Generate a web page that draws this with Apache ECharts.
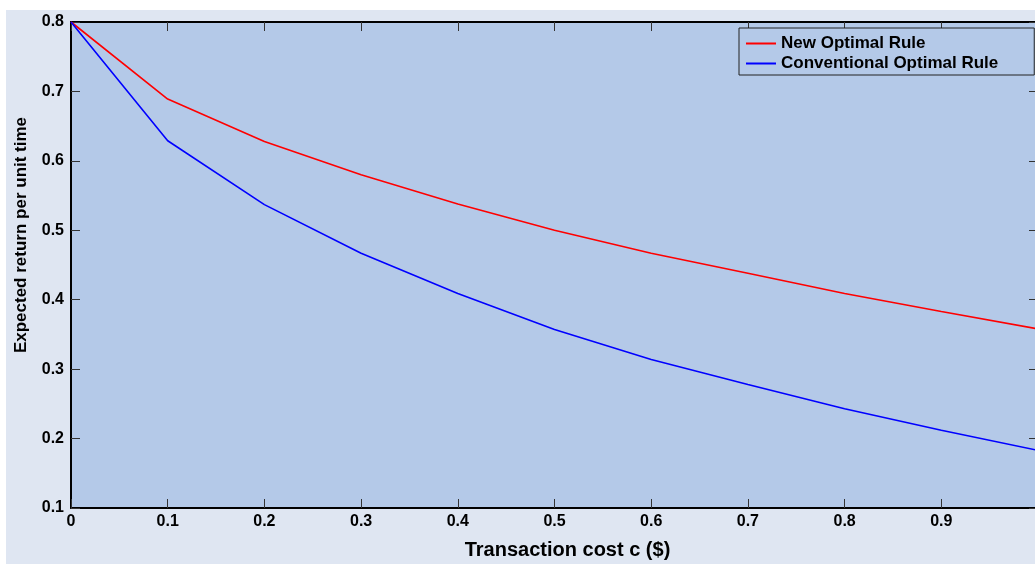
<!DOCTYPE html>
<html>
<head>
<meta charset="utf-8">
<script src="https://cdn.jsdelivr.net/npm/echarts@6/dist/echarts.min.js"></script>
<style>
html,body{margin:0;padding:0;background:#ffffff;}
#chart{width:1035px;height:564px;}
</style>
</head>
<body>
<div id="chart"></div>
<script>
// Transaction cost c ($)
var costs = [0, 0.1, 0.2, 0.3, 0.4, 0.5, 0.6, 0.7, 0.8, 0.9, 1.0];
var newOptimalRule = [0.800, 0.689, 0.628, 0.580, 0.538, 0.500, 0.467, 0.438, 0.409, 0.383, 0.358];
var conventionalOptimalRule = [0.800, 0.629, 0.537, 0.467, 0.409, 0.357, 0.314, 0.278, 0.243, 0.212, 0.183];
var seriesNames = ['New Optimal Rule', 'Conventional Optimal Rule'];
var xTickLabels = ['0', '0.1', '0.2', '0.3', '0.4', '0.5', '0.6', '0.7', '0.8', '0.9', ''];
var yTickLabels = ['0.1', '0.2', '0.3', '0.4', '0.5', '0.6', '0.7', '0.8'];

function zip(xs, ys) { return xs.map(function (x, i) { return [x, ys[i]]; }); }

var font = 'Liberation Sans, Arial, Helvetica, sans-serif';
var chart = echarts.init(document.getElementById('chart'), null, {renderer: 'canvas'});
var tickStyle = {show: true, inside: true, length: 9, lineStyle: {color: '#333333', width: 1}};
var lineStyleAxis = {show: true, onZero: false, lineStyle: {color: '#000000', width: 2}};

chart.setOption({
  backgroundColor: '#ffffff',
  animation: false,
  textStyle: {fontFamily: font},
  graphic: [{
    type: 'rect', z: -100, silent: true,
    shape: {x: 6, y: 10, width: 1029, height: 554},
    style: {fill: '#dfe6f2'}
  }],
  grid: {
    left: 71, top: 22, width: 967, height: 486,
    containLabel: false, outerBoundsMode: 'none',
    show: true, backgroundColor: '#b4c9e8', borderWidth: 0
  },
  legend: {
    orient: 'vertical', left: 739, top: 28,
    padding: [7, 36, 3, 6], itemGap: 3,
    itemWidth: 30, itemHeight: 14, itemStyle: {opacity: 0},
    backgroundColor: '#b4c9e8', borderColor: '#222222', borderWidth: 1,
    textStyle: {fontFamily: font, fontWeight: 'bold', fontSize: 17, color: '#000000'},
    data: seriesNames
  },
  xAxis: [{
    type: 'value', min: 0, max: 1, interval: 0.1, position: 'bottom',
    axisLine: lineStyleAxis, axisTick: tickStyle, splitLine: {show: false},
    axisLabel: {
      margin: 6, color: '#000000', fontWeight: 'bold', fontSize: 16, fontFamily: font,
      formatter: function (v) { return xTickLabels[Math.round(v * 10)]; }
    },
    name: 'Transaction cost c ($)', nameLocation: 'middle', nameGap: 32,
    nameTextStyle: {color: '#000000', fontWeight: 'bold', fontSize: 20, fontFamily: font, padding: [0, 0, 0, 26]}
  }, {
    type: 'value', min: 0, max: 1, interval: 0.1, position: 'top',
    axisLine: lineStyleAxis, axisTick: tickStyle, axisLabel: {show: false}, splitLine: {show: false}
  }],
  yAxis: [{
    type: 'value', min: 0.1, max: 0.8, interval: 0.1, position: 'left',
    axisLine: lineStyleAxis, axisTick: tickStyle, splitLine: {show: false},
    axisLabel: {
      margin: 7, color: '#000000', fontWeight: 'bold', fontSize: 16, fontFamily: font,
      formatter: function (v) { return yTickLabels[Math.round(v * 10) - 1]; }
    },
    name: 'Expected return per unit time', nameLocation: 'middle', nameGap: 41, nameRotate: 90,
    nameTextStyle: {color: '#000000', fontWeight: 'bold', fontSize: 17, fontFamily: font, padding: [0, 0, 0, 60]}
  }, {
    type: 'value', min: 0.1, max: 0.8, interval: 0.1, position: 'right',
    axisLine: lineStyleAxis, axisTick: tickStyle, axisLabel: {show: false}, splitLine: {show: false}
  }],
  series: [{
    name: seriesNames[0], type: 'line', symbol: 'none', showSymbol: false,
    lineStyle: {color: '#ff0000', width: 1.6}, itemStyle: {color: '#ff0000'},
    data: zip(costs, newOptimalRule)
  }, {
    name: seriesNames[1], type: 'line', symbol: 'none', showSymbol: false,
    lineStyle: {color: '#0000ff', width: 1.6}, itemStyle: {color: '#0000ff'},
    data: zip(costs, conventionalOptimalRule)
  }]
});
</script>
</body>
</html>
